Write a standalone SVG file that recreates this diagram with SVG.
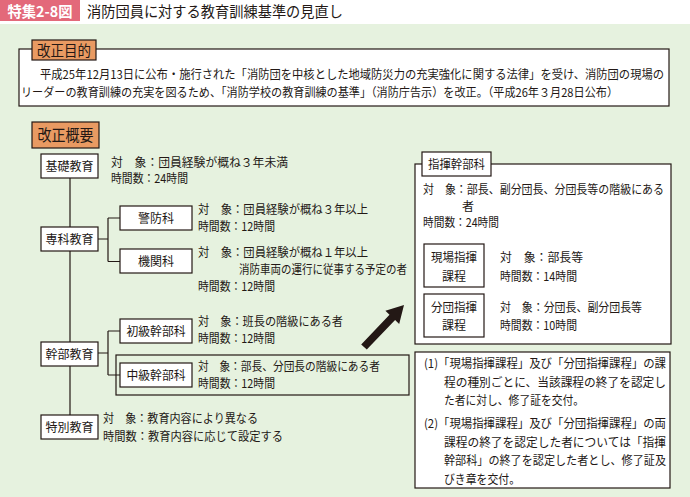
<svg xmlns="http://www.w3.org/2000/svg" width="690" height="497" viewBox="0 0 690 497">
<style>
text{font-family:"Noto Sans CJK JP","Noto Sans CJK SC",sans-serif;fill:#231815}
.t{font-size:12px}
.n{font-size:12.5px;text-anchor:middle}
.b{fill:#fff;stroke:#231815;stroke-width:1.2}
.f{fill:none;stroke:#231815;stroke-width:1.2}
.o{fill:#e99a62;stroke:#231815;stroke-width:1.2}
.c{fill:none;stroke:#231815;stroke-width:1.2}
.m{text-anchor:middle}
</style>
<rect width="690" height="497" fill="#e6f2df"/>
<rect width="690" height="24" fill="#fff"/>
<g id="title">
<rect width="80" height="21" fill="#e3697a"/>
<text x="40" y="16.5" class="m" style="font-size:15px;font-weight:bold;fill:#fff" textLength="65" lengthAdjust="spacingAndGlyphs">特集2-8図</text>
<text x="87" y="17" style="font-size:15px" textLength="256" lengthAdjust="spacingAndGlyphs">消防団員に対する教育訓練基準の見直し</text>
</g>
<g id="purpose">
<rect x="19" y="49" width="650" height="57" class="b"/>
<rect x="32" y="40" width="64" height="20" class="o"/>
<text x="64" y="55.5" class="m" style="font-size:14.5px" textLength="54" lengthAdjust="spacingAndGlyphs">改正目的</text>
<text x="40" y="78.5" class="t" textLength="624" lengthAdjust="spacingAndGlyphs">平成25年12月13日に公布・施行された「消防団を中核とした地域防災力の充実強化に関する法律」を受け、消防団の現場の</text>
<text x="21" y="96.5" class="t" textLength="597" lengthAdjust="spacingAndGlyphs">リーダーの教育訓練の充実を図るため、「消防学校の教育訓練の基準」（消防庁告示）を改正。（平成26年３月28日公布）</text>
</g>
<g id="overview-label">
<rect x="32" y="122" width="67" height="26" class="o"/>
<text x="65.5" y="140.5" class="m" style="font-size:16px" textLength="56" lengthAdjust="spacingAndGlyphs">改正概要</text>
</g>
<g id="connectors">
<path class="c" d="M70 178V415M98 239H108M108 218V261.5M108 218H120M108 261.5H120M98 353H108M108 331V375M108 331H120M108 375H120"/>
<polygon fill="#231815" points="361.2,344.4 389.5,314.7 385.4,310.7 404,305 399.2,323.9 395.1,319.9 366.8,349.6"/>
</g>
<g id="kiso">
<rect x="41" y="154" width="57" height="24" class="b"/>
<text x="69.5" y="170.5" class="n" textLength="48" lengthAdjust="spacingAndGlyphs">基礎教育</text>
<text x="111" y="166.5" class="t" textLength="177" lengthAdjust="spacingAndGlyphs">対　象：団員経験が概ね３年未満</text>
<text x="111" y="182.5" class="t" textLength="77" lengthAdjust="spacingAndGlyphs">時間数：24時間</text>
</g>
<g id="senka">
<rect x="41" y="227" width="57" height="24" class="b"/>
<text x="69.5" y="243.5" class="n" textLength="48" lengthAdjust="spacingAndGlyphs">専科教育</text>
</g>
<g id="keibo">
<rect x="120" y="206" width="72" height="24" class="b"/>
<text x="156" y="222.5" class="n" textLength="36" lengthAdjust="spacingAndGlyphs">警防科</text>
<text x="198" y="213.5" class="t" textLength="170" lengthAdjust="spacingAndGlyphs">対　象：団員経験が概ね３年以上</text>
<text x="198" y="230.5" class="t" textLength="77" lengthAdjust="spacingAndGlyphs">時間数：12時間</text>
</g>
<g id="kikan">
<rect x="120" y="249" width="72" height="24" class="b"/>
<text x="156" y="265.5" class="n" textLength="36" lengthAdjust="spacingAndGlyphs">機関科</text>
<text x="198" y="256.5" class="t" textLength="170" lengthAdjust="spacingAndGlyphs">対　象：団員経験が概ね１年以上</text>
<text x="239" y="273.5" class="t" textLength="168" lengthAdjust="spacingAndGlyphs">消防車両の運行に従事する予定の者</text>
<text x="198" y="290.5" class="t" textLength="77" lengthAdjust="spacingAndGlyphs">時間数：12時間</text>
</g>
<g id="kanbu">
<rect x="41" y="342" width="57" height="24" class="b"/>
<text x="69.5" y="358.5" class="n" textLength="48" lengthAdjust="spacingAndGlyphs">幹部教育</text>
</g>
<g id="shokyu">
<rect x="120" y="319" width="72" height="24" class="b"/>
<text x="156" y="335.5" class="n" textLength="59" lengthAdjust="spacingAndGlyphs">初級幹部科</text>
<text x="198" y="326" class="t" textLength="145" lengthAdjust="spacingAndGlyphs">対　象：班長の階級にある者</text>
<text x="198" y="342.5" class="t" textLength="77" lengthAdjust="spacingAndGlyphs">時間数：12時間</text>
</g>
<g id="chukyu">
<rect x="116" y="355" width="293" height="40" class="f"/>
<rect x="120" y="363" width="72" height="24" class="b"/>
<text x="156" y="379.5" class="n" textLength="59" lengthAdjust="spacingAndGlyphs">中級幹部科</text>
<text x="198" y="371" class="t" textLength="182" lengthAdjust="spacingAndGlyphs">対　象：部長、分団長の階級にある者</text>
<text x="198" y="387.5" class="t" textLength="77" lengthAdjust="spacingAndGlyphs">時間数：12時間</text>
</g>
<g id="tokubetsu">
<rect x="41" y="415" width="57" height="24" class="b"/>
<text x="69.5" y="431.5" class="n" textLength="48" lengthAdjust="spacingAndGlyphs">特別教育</text>
<text x="103" y="422.5" class="t" textLength="155" lengthAdjust="spacingAndGlyphs">対　象：教育内容により異なる</text>
<text x="103" y="440.5" class="t" textLength="180" lengthAdjust="spacingAndGlyphs">時間数：教育内容に応じて設定する</text>
</g>
<g id="shiki">
<rect x="415" y="164" width="256" height="180" class="b"/>
<rect x="422" y="152" width="69" height="24" class="b"/>
<text x="456.5" y="168.5" class="n" textLength="57" lengthAdjust="spacingAndGlyphs">指揮幹部科</text>
<text x="423" y="193.5" class="t" textLength="241" lengthAdjust="spacingAndGlyphs">対　象：部長、副分団長、分団長等の階級にある</text>
<text x="462" y="210.5" class="t">者</text>
<text x="423" y="227" class="t" textLength="76" lengthAdjust="spacingAndGlyphs">時間数：24時間</text>
</g>
<g id="genba">
<rect x="424" y="244" width="60" height="43" class="b"/>
<text x="454" y="262" class="n" textLength="46" lengthAdjust="spacingAndGlyphs">現場指揮</text>
<text x="454" y="281" class="n" textLength="24" lengthAdjust="spacingAndGlyphs">課程</text>
<text x="500" y="262" class="t" textLength="83" lengthAdjust="spacingAndGlyphs">対　象：部長等</text>
<text x="500" y="281" class="t" textLength="77" lengthAdjust="spacingAndGlyphs">時間数：14時間</text>
</g>
<g id="bundan">
<rect x="424" y="294" width="60" height="43" class="b"/>
<text x="454" y="312" class="n" textLength="46" lengthAdjust="spacingAndGlyphs">分団指揮</text>
<text x="454" y="330" class="n" textLength="24" lengthAdjust="spacingAndGlyphs">課程</text>
<text x="500" y="312" class="t" textLength="142" lengthAdjust="spacingAndGlyphs">対　象：分団長、副分団長等</text>
<text x="500" y="330" class="t" textLength="77" lengthAdjust="spacingAndGlyphs">時間数：10時間</text>
</g>
<g id="notes">
<rect x="415" y="352" width="255" height="136" class="b"/>
<text x="424" y="367.5" class="t" textLength="242" lengthAdjust="spacingAndGlyphs">(1)「現場指揮課程」及び「分団指揮課程」の課</text>
<text x="444" y="386.5" class="t" textLength="222" lengthAdjust="spacingAndGlyphs">程の種別ごとに、当該課程の終了を認定し</text>
<text x="444" y="404.5" class="t" textLength="140" lengthAdjust="spacingAndGlyphs">た者に対し、修了証を交付。</text>
<text x="424" y="427.5" class="t" textLength="242" lengthAdjust="spacingAndGlyphs">(2)「現場指揮課程」及び「分団指揮課程」の両</text>
<text x="444" y="446.5" class="t" textLength="222" lengthAdjust="spacingAndGlyphs">課程の終了を認定した者については「指揮</text>
<text x="444" y="464.5" class="t" textLength="222" lengthAdjust="spacingAndGlyphs">幹部科」の終了を認定した者とし、修了証及</text>
<text x="444" y="483.5" class="t" textLength="76" lengthAdjust="spacingAndGlyphs">びき章を交付。</text>
</g>
</svg>
